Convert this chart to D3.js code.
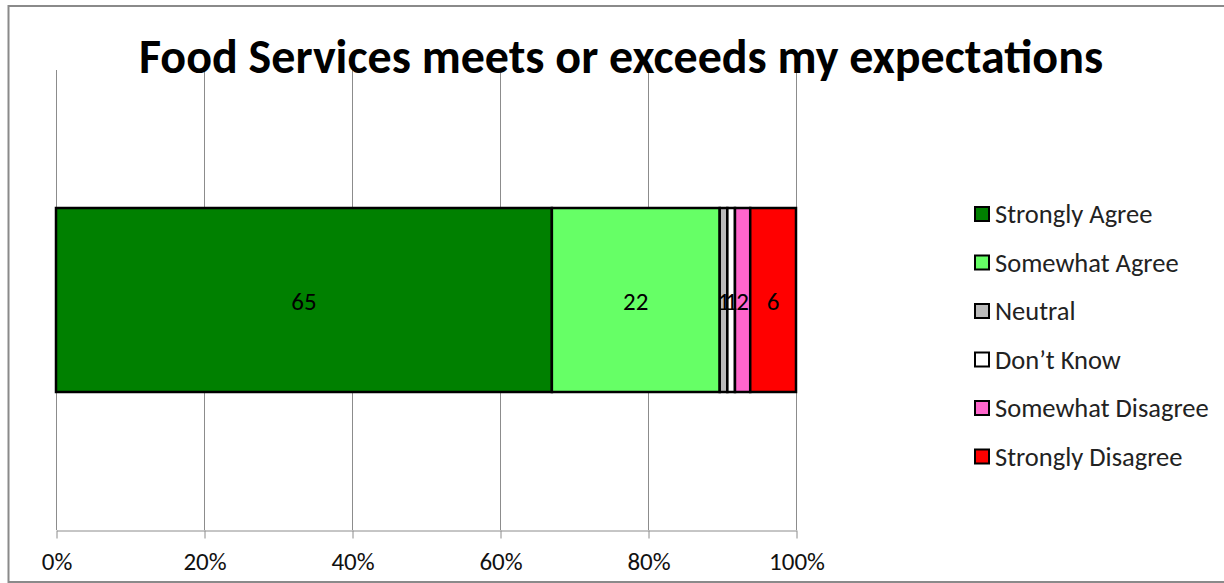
<!DOCTYPE html>
<html>
<head>
<meta charset="utf-8">
<script src="https://cdn.jsdelivr.net/npm/d3@7"></script>
<style>
  html, body { margin: 0; padding: 0; background: #fff; }
  svg { display: block; }
  text { font-family: Calibri, Carlito, "Open Sans", "DejaVu Sans", sans-serif; }
</style>
</head>
<body>
<svg id="chart" width="1224" height="583"></svg>
<script>
// Survey responses (counts), drawn as a 100% stacked bar
const categories = ["Strongly Agree", "Somewhat Agree", "Neutral", "Don\u2019t Know", "Somewhat Disagree", "Strongly Disagree"];
const values = [65, 22, 1, 1, 2, 6];
const colors = ["#008000", "#66FF66", "#BBBBBB", "#FFFFFF", "#FF66CC", "#FF0000"];
const tickValues = [0, 0.2, 0.4, 0.6, 0.8, 1.0];
const title = "Food Services meets or exceeds my expectations";

const svg = d3.select("#chart");
const W = 1224, H = 583;

// chart frame
svg.append("rect")
  .attr("x", 8.5).attr("y", 6)
  .attr("width", W + 10).attr("height", 576)
  .attr("fill", "#fff").attr("stroke", "#8a8a8a").attr("stroke-width", 2);

const plot = { left: 56, right: 796, top: 70, bottom: 530 };

const x = d3.scaleLinear().domain([0, 1]).range([plot.left, plot.right]);
const y = d3.scaleBand().domain(["row"]).range([plot.top, plot.bottom]).paddingInner(0).paddingOuter(0.75);

// vertical gridlines
svg.append("g")
  .selectAll("line")
  .data(tickValues)
  .join("line")
  .attr("x1", d => Math.round(x(d)) + 0.5).attr("x2", d => Math.round(x(d)) + 0.5)
  .attr("y1", plot.top).attr("y2", plot.bottom)
  .attr("stroke", "#8c8c8c").attr("stroke-width", 1);

// bottom axis
const axis = d3.axisBottom(x)
  .tickValues(tickValues)
  .tickFormat(d3.format(".0%"))
  .tickSizeInner(8).tickSizeOuter(0).tickPadding(14);
const gx = svg.append("g")
  .attr("transform", `translate(0.5,${plot.bottom + 0.5})`)
  .call(axis);
gx.select(".domain").attr("stroke", "#8c8c8c");
gx.selectAll(".tick line").attr("stroke", "#8c8c8c");
gx.selectAll(".tick text")
  .attr("font-size", 25).attr("fill", "#111")
  .style("font-family", "Calibri, Carlito, 'Open Sans', sans-serif");

// stacked segments
const stack = d3.stack().keys(categories).offset(d3.stackOffsetExpand);
const row = {};
categories.forEach((c, i) => row[c] = values[i]);
const series = stack([row]);

const bar = svg.append("g");
const bandY = y("row"), bandH = y.bandwidth();
series.forEach((s, i) => {
  const d = s[0];
  bar.append("rect")
    .attr("x", x(d[0])).attr("y", bandY)
    .attr("width", x(d[1]) - x(d[0])).attr("height", bandH)
    .attr("fill", colors[i]).attr("stroke", "#000").attr("stroke-width", 2.5);
});
series.forEach((s, i) => {
  const d = s[0];
  bar.append("text")
    .attr("x", (x(d[0]) + x(d[1])) / 2)
    .attr("y", bandY + bandH / 2 + 1)
    .attr("text-anchor", "middle").attr("dominant-baseline", "central")
    .attr("font-size", 25).attr("fill", "#000")
    .text(values[i]);
});

// title
svg.append("text")
  .attr("x", 621).attr("y", 73)
  .attr("text-anchor", "middle")
  .attr("font-size", 48).attr("font-weight", "bold").attr("fill", "#000")
  .text(title);

// legend
const legend = svg.append("g").attr("transform", "translate(975,214)");
categories.forEach((c, i) => {
  const g = legend.append("g").attr("transform", `translate(0,${i * 48.5})`);
  g.append("rect")
    .attr("x", 0).attr("y", -7).attr("width", 14).attr("height", 14)
    .attr("fill", colors[i]).attr("stroke", "#000").attr("stroke-width", 2);
  g.append("text")
    .attr("x", 20).attr("y", 0)
    .attr("dominant-baseline", "central")
    .attr("font-size", 26.5).attr("fill", "#222")
    .text(c);
});
</script>
</body>
</html>
